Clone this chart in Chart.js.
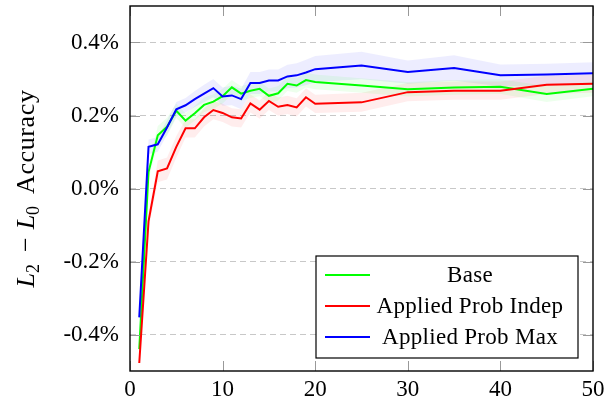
<!DOCTYPE html>
<html>
<head>
<meta charset="utf-8">
<script src="https://cdn.jsdelivr.net/npm/chart.js@4.4.1/dist/chart.umd.min.js"></script>
<style>
  body { margin: 0; background: #fff; }
  #wrap { width: 616px; height: 401px; }
</style>
</head>
<body>
<div id="wrap"><canvas id="myChart"></canvas></div>
<script>
// data
const xValues = [1, 2, 3, 4, 5, 6, 7, 8, 9, 10, 11, 12, 13, 14, 15, 16, 17, 18, 19, 20, 25, 30, 35, 40, 45, 50];

const baseVals  = [-0.44, 0.045, 0.146, 0.169, 0.213, 0.186, 0.206, 0.229, 0.238, 0.253, 0.277, 0.26, 0.268, 0.273, 0.254, 0.261, 0.287, 0.282, 0.297, 0.292, 0.282, 0.272, 0.277, 0.279, 0.259, 0.273];
const indepVals = [-0.478, -0.09, 0.047, 0.055, 0.114, 0.165, 0.165, 0.195, 0.215, 0.207, 0.195, 0.192, 0.233, 0.216, 0.24, 0.224, 0.229, 0.222, 0.25, 0.232, 0.236, 0.264, 0.268, 0.268, 0.284, 0.287];
const maxVals   = [-0.353, 0.114, 0.121, 0.167, 0.217, 0.228, 0.245, 0.26, 0.275, 0.252, 0.255, 0.245, 0.289, 0.289, 0.296, 0.296, 0.307, 0.31, 0.318, 0.327, 0.337, 0.319, 0.33, 0.31, 0.312, 0.316];

// half width of the shaded bands
const baseErr  = [0.01, 0.02, 0.025, 0.025, 0.02, 0.02, 0.02, 0.02, 0.02, 0.02, 0.02, 0.02, 0.02, 0.02, 0.02, 0.02, 0.02, 0.02, 0.02, 0.02, 0.02, 0.02, 0.02, 0.02, 0.022, 0.02];
const indepErr = [0.01, 0.02, 0.03, 0.03, 0.03, 0.025, 0.025, 0.025, 0.025, 0.025, 0.025, 0.025, 0.025, 0.025, 0.025, 0.025, 0.025, 0.025, 0.025, 0.025, 0.026, 0.025, 0.025, 0.025, 0.025, 0.025];
const maxErr   = [0.01, 0.02, 0.02, 0.02, 0.02, 0.02, 0.022, 0.024, 0.025, 0.025, 0.027, 0.028, 0.03, 0.03, 0.03, 0.03, 0.032, 0.033, 0.035, 0.036, 0.038, 0.032, 0.035, 0.03, 0.03, 0.03];

const seriesNames = ['Base', 'Applied Prob Indep', 'Applied Prob Max'];
const xTicks = [0, 10, 20, 30, 40, 50];
const yTicks = [-0.4, -0.2, 0, 0.2, 0.4];
const yTickLabels = ['-0.4%', '-0.2%', '0.0%', '0.2%', '0.4%'];

const SERIF = "'Liberation Serif', 'Times New Roman', serif";

function pts(vals, err, sign) {
    return xValues.map((x, i) => ({ x: x, y: vals[i] + sign * (err ? err[i] : 0) }));
}

function band(vals, err, color) {
    return [
        { data: pts(vals, err, -1), borderWidth: 0, pointRadius: 0, fill: false, order: 5 },
        { data: pts(vals, err, 1), borderWidth: 0, pointRadius: 0, fill: '-1', backgroundColor: color, order: 5 }
    ];
}

function line(label, vals, color, order) {
    return { label: label, data: pts(vals, null, 0), borderColor: color, borderWidth: 2,
             pointRadius: 0, tension: 0, fill: false, order: order };
}

// frame, inward ticks and the y title
const framePlugin = {
    id: 'frame',
    afterDraw(chart) {
        const ctx = chart.ctx;
        const a = chart.chartArea;
        const xs = chart.scales.x, ys = chart.scales.y;
        ctx.save();
        ctx.strokeStyle = '#999';
        ctx.lineWidth = 1;
        ctx.beginPath();
        xTicks.forEach(v => {
            const px = Math.round(xs.getPixelForValue(v)) + 0.5;
            ctx.moveTo(px, a.bottom); ctx.lineTo(px, a.bottom - 10);
            ctx.moveTo(px, a.top); ctx.lineTo(px, a.top + 10);
        });
        yTicks.forEach(v => {
            const py = Math.round(ys.getPixelForValue(v)) + 0.5;
            ctx.moveTo(a.left, py); ctx.lineTo(a.left + 10, py);
            ctx.moveTo(a.right, py); ctx.lineTo(a.right - 10, py);
        });
        ctx.stroke();
        ctx.strokeStyle = '#000';
        ctx.lineWidth = 1.4;
        ctx.strokeRect(a.left, a.top, a.right - a.left, a.bottom - a.top);

        // y axis title: L_2 - L_0 Accuracy
        const parts = [
            { t: 'L', f: 'italic 26px ' + SERIF, dy: 0, gap: 0 },
            { t: '2', f: '18px ' + SERIF, dy: 5, gap: 0 },
            { t: '\u2212', f: '26px ' + SERIF, dy: 0, gap: 12 },
            { t: 'L', f: 'italic 26px ' + SERIF, dy: 0, gap: 8 },
            { t: '0', f: '18px ' + SERIF, dy: 5, gap: 0 },
            { t: 'Accuracy', f: '26px ' + SERIF, dy: 0, gap: 12, ls: '0.6px' }
        ];
        let total = 0;
        parts.forEach(p => {
            ctx.font = p.f;
            ctx.letterSpacing = p.ls || '0px';
            p.w = ctx.measureText(p.t).width;
            total += p.gap + p.w;
        });
        ctx.translate(34, (a.top + a.bottom) / 2);
        ctx.rotate(-Math.PI / 2);
        ctx.fillStyle = '#000';
        ctx.textBaseline = 'alphabetic';
        ctx.textAlign = 'left';
        let cx = -total / 2;
        parts.forEach(p => {
            cx += p.gap;
            ctx.font = p.f;
            ctx.letterSpacing = p.ls || '0px';
            ctx.fillText(p.t, cx, p.dy);
            cx += p.w;
        });
        ctx.restore();
    }
};

// boxed legend in the lower right of the plot
const legendPlugin = {
    id: 'boxLegend',
    afterDraw(chart) {
        const ctx = chart.ctx;
        const a = chart.chartArea;
        const w = 262, h = 102;
        const left = a.right - 15 - w, top = a.bottom - 13 - h;
        ctx.save();
        ctx.fillStyle = '#fff';
        ctx.fillRect(left, top, w, h);
        ctx.strokeStyle = '#000';
        ctx.lineWidth = 1.2;
        ctx.strokeRect(left, top, w, h);
        const lines = chart.data.datasets.filter(d => d.label);
        lines.forEach((d, i) => {
            const y = top + 19 + i * 31;
            ctx.strokeStyle = d.borderColor;
            ctx.lineWidth = 2;
            ctx.beginPath();
            ctx.moveTo(left + 9, y); ctx.lineTo(left + 54, y);
            ctx.stroke();
            ctx.fillStyle = '#000';
            ctx.font = '23px ' + SERIF;
            ctx.letterSpacing = '0.3px';
            ctx.textAlign = 'center';
            ctx.textBaseline = 'middle';
            ctx.fillText(d.label, left + 154, y + 1);
        });
        ctx.restore();
    }
};

function loadLineChart() {
    const ctx = document.getElementById('myChart').getContext('2d');
    const myChart = new Chart(ctx, {
        type: 'line',
        data: {
            datasets: [
                ...band(baseVals, baseErr, 'rgba(0, 255, 0, 0.07)'),
                ...band(indepVals, indepErr, 'rgba(255, 0, 0, 0.07)'),
                ...band(maxVals, maxErr, 'rgba(0, 0, 255, 0.07)'),
                line(seriesNames[0], baseVals, '#00ff00', 2),
                line(seriesNames[1], indepVals, '#ff0000', 1),
                line(seriesNames[2], maxVals, '#0000ff', 0)
            ]
        },
        options: {
            responsive: true,
            maintainAspectRatio: false,
            animation: false,
            layout: { padding: { top: 6, right: 23, bottom: 0, left: 0 } },
            plugins: { legend: { display: false }, tooltip: { enabled: false } },
            scales: {
                x: {
                    type: 'linear', min: 0, max: 50,
                    afterBuildTicks: s => { s.ticks = xTicks.map(v => ({ value: v })); },
                    afterFit: s => { s.height = 30; s.paddingLeft = 0; s.paddingRight = 0; },
                    grid: { display: false, drawTicks: false },
                    border: { display: false },
                    ticks: { color: '#000', padding: 5, maxRotation: 0, font: { family: SERIF, size: 23 } }
                },
                y: {
                    min: -0.5, max: 0.5,
                    afterBuildTicks: s => { s.ticks = yTicks.map(v => ({ value: v })); },
                    afterFit: s => { s.width = 130; s.paddingTop = 0; s.paddingBottom = 0; },
                    grid: { color: '#c8c8c8', lineWidth: 1, drawTicks: false },
                    border: { display: false, dash: [6, 4] },
                    ticks: {
                        color: '#000', padding: 11, font: { family: SERIF, size: 23 },
                        callback: (v, i) => yTickLabels[i]
                    }
                }
            }
        },
        plugins: [framePlugin, legendPlugin]
    });
}
document.addEventListener('DOMContentLoaded', loadLineChart);
</script>
</body>
</html>
